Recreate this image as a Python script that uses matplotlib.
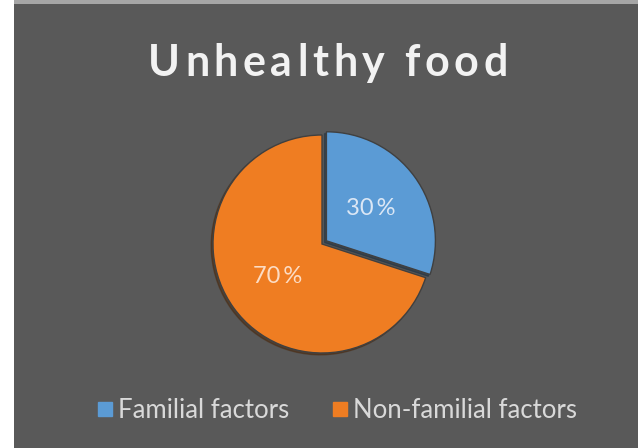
import matplotlib
matplotlib.use("Agg")
import matplotlib.pyplot as plt
import numpy as np
from matplotlib.patches import Rectangle
from matplotlib.lines import Line2D

title = "Unhealthy food"
categories = ["Familial factors", "Non-familial factors"]
values = [30, 70]
colors = ["#5b9bd5", "#ef7d22"]
label_colors = ["#dbe7f5", "#fcdcc4"]

W, H = 638, 448
fig = plt.figure(figsize=(W / 100, H / 100), dpi=100)
fig.patch.set_facecolor("white")
fig.patches.append(Rectangle((14 / W, 0), 1 - 14 / W, (H - 4) / H, transform=fig.transFigure,
                             facecolor="#595959", edgecolor="none", zorder=-5))
fig.patches.append(Rectangle((14 / W, (H - 4) / H), 1 - 14 / W, 4 / H, transform=fig.transFigure,
                             facecolor="#a6a6a6", edgecolor="none", zorder=-5))

cx, cy, r = 322, 244, 109
half = 130
ax = fig.add_axes([(cx - half) / W, (H - cy - half) / H, 2 * half / W, 2 * half / H])
ax.set_facecolor("none")
ax.set_zorder(2)
lim = half / r

wedges, texts, autotexts = ax.pie(
    values, colors=colors, startangle=90, counterclock=False,
    explode=[0.05, 0], radius=1,
    autopct=lambda p: f"{p:.0f}\u2009%", pctdistance=0.5,
    shadow=dict(ox=-0.012, oy=-0.012, shade=0.7),
    wedgeprops=dict(edgecolor="#404040", linewidth=1.0),
    textprops=dict(fontsize=17, family="Lato"),
)
ax.set_xlim(-lim, lim)
ax.set_ylim(-lim, lim)
ax.set_aspect("equal")
ax.axis("off")
for w, t, c in zip(wedges, autotexts, label_colors):
    t.set_color(c)

# title with letter spacing
renderer = fig.canvas.get_renderer()
tprops = dict(fontsize=31, fontweight="bold", color="#f2f2f2", family="Lato", va="baseline")
tracking = 4.7
widths = []
for ch in title:
    tt = fig.text(0, 0, ch if ch != " " else "n", **tprops)
    wpx = tt.get_window_extent(renderer).width
    if ch == " ":
        sp = fig.text(0, 0, "a b", **tprops).get_window_extent(renderer).width
        ab = fig.text(0, 0, "ab", **tprops).get_window_extent(renderer).width
        wpx = sp - ab
    widths.append(wpx)
for t in list(fig.texts):
    t.remove()
total = sum(widths) + tracking * (len(title) - 1)
x = 328 - total / 2
for ch, wpx in zip(title, widths):
    if ch != " ":
        fig.text(x / W, 1 - 76 / H, ch, **tprops)
    x += wpx + tracking

handles = [Line2D([], [], marker="s", linestyle="none", markersize=10,
                  markerfacecolor=c, markeredgecolor=c) for c in colors]
leg = fig.legend(handles, categories, loc="center", bbox_to_anchor=(336 / W, 1 - 410 / H),
                 ncol=2, frameon=False, handletextpad=0.1, columnspacing=1.6,
                 handlelength=0.8, prop=dict(family="Lato", size=18.5))
for t in leg.get_texts():
    t.set_color("#d9d9d9")

fig.savefig("out.png", dpi=100, facecolor=fig.get_facecolor())
